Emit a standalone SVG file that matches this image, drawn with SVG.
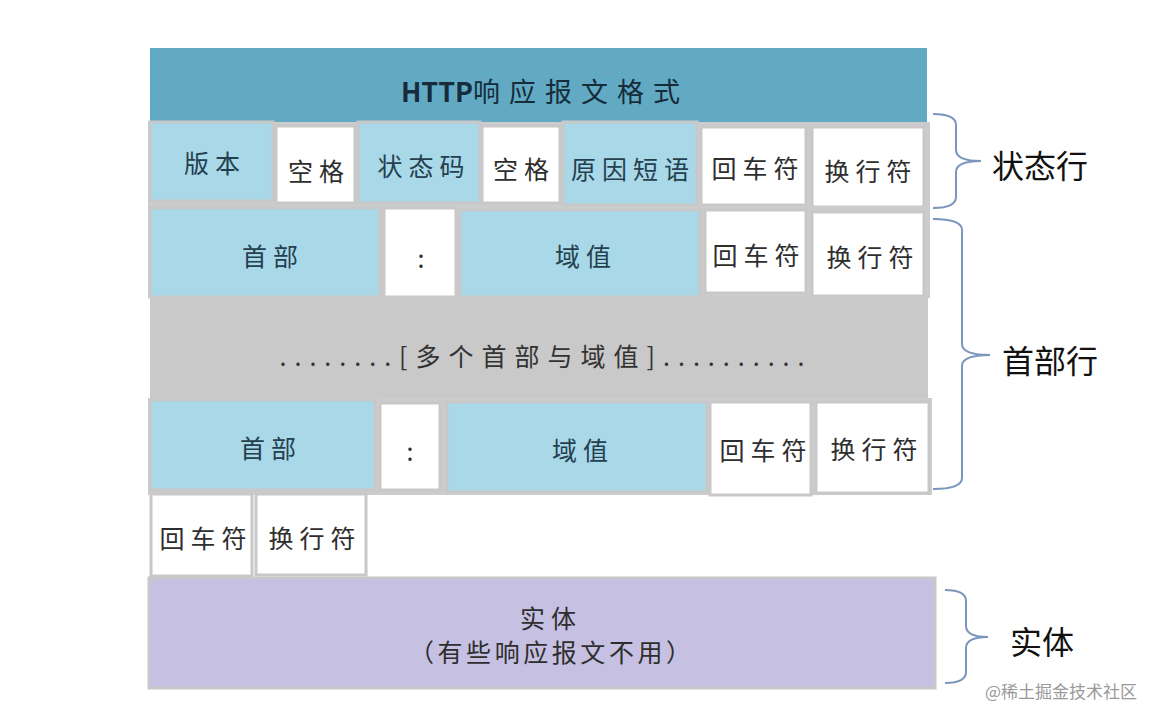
<svg xmlns="http://www.w3.org/2000/svg" width="1164" height="720" viewBox="0 0 1164 720">
<style>
  .cjk{font-family:"Noto Sans CJK SC","Noto Sans",sans-serif}
  .cell{stroke:#c8c8c8;stroke-width:3}
  .blue{fill:#a9d8e8}
  .white{fill:#ffffff}
  .t{font-family:"Noto Sans CJK SC","Noto Sans",sans-serif;font-size:25px;letter-spacing:6px;text-anchor:middle;dominant-baseline:central}
  .tb{fill:#24404f}
  .tw{fill:#2e2e2e}
  .brace{fill:none;stroke:#7b96bd;stroke-width:2}
  .lbl{font-family:"Noto Sans CJK SC","Noto Sans",sans-serif;font-size:32px;fill:#111111;dominant-baseline:central}
</style>
<rect x="0" y="0" width="1164" height="720" fill="#ffffff"/>

<g id="header">
  <rect x="150" y="48" width="777" height="75" fill="#62a9c4"/>
  <text x="545" y="90" class="cjk" font-size="27" fill="#162c3a" text-anchor="middle" dominant-baseline="central"><tspan font-weight="bold" letter-spacing="0">HTTP</tspan><tspan letter-spacing="9">响应报文格式</tspan></text>
</g>

<g id="row1">
  <rect x="148" y="122" width="782" height="86" fill="#cccccc"/>
  <g id="r1-version"><rect class="cell blue" x="150" y="122" width="123" height="79"/><text class="t tb" x="215" y="162">版本</text></g>
  <g id="r1-space1"><rect class="cell white" x="276" y="126" width="79" height="77"/><text class="t tw" x="319" y="170">空格</text></g>
  <g id="r1-status"><rect class="cell blue" x="358" y="122" width="122" height="81"/><text class="t tb" x="424" y="165">状态码</text></g>
  <g id="r1-space2"><rect class="cell white" x="482" y="126" width="78" height="77"/><text class="t tw" x="524" y="168">空格</text></g>
  <g id="r1-reason"><rect class="cell blue" x="563" y="122" width="134" height="83"/><text class="t tb" x="633" y="168">原因短语</text></g>
  <g id="r1-cr"><rect class="cell white" x="701" y="127" width="105" height="78"/><text class="t tw" x="758" y="167">回车符</text></g>
  <g id="r1-lf"><rect class="cell white" x="812" y="127" width="112" height="80"/><text class="t tw" x="871" y="170">换行符</text></g>
</g>

<g id="row2">
  <rect x="148" y="206" width="782" height="92" fill="#cccccc"/>
  <g id="r2-header"><rect class="cell blue" x="150" y="208" width="230" height="89"/><text class="t tb" x="273" y="255">首部</text></g>
  <g id="r2-colon"><rect class="cell white" x="384" y="208" width="72" height="89"/><text class="t tw" x="424" y="257">:</text></g>
  <g id="r2-value"><rect class="cell blue" x="460" y="210" width="240" height="87"/><text class="t tb" x="586" y="255">域值</text></g>
  <g id="r2-cr"><rect class="cell white" x="705" y="210" width="101" height="83"/><text class="t tw" x="759" y="254">回车符</text></g>
  <g id="r2-lf"><rect class="cell white" x="812" y="212" width="112" height="84"/><text class="t tw" x="873" y="256">换行符</text></g>
</g>

<g id="more-headers">
  <rect x="150" y="297" width="778" height="101" fill="#c9c9c9"/>
  <text x="542" y="355" class="cjk" font-size="25" fill="#333333" text-anchor="middle" dominant-baseline="central" textLength="525" lengthAdjust="spacing">........[多个首部与域值]..........</text>
</g>

<g id="row3">
  <rect x="148" y="398" width="784" height="97" fill="#cccccc"/>
  <g id="r3-header"><rect class="cell blue" x="150" y="400" width="225" height="90"/><text class="t tb" x="271" y="447">首部</text></g>
  <g id="r3-colon"><rect class="cell white" x="380" y="403" width="60" height="87"/><text class="t tw" x="413" y="450">:</text></g>
  <g id="r3-value"><rect class="cell blue" x="447" y="402" width="260" height="90"/><text class="t tb" x="583" y="449">域值</text></g>
  <g id="r3-cr"><rect class="cell white" x="710" y="402" width="101" height="93"/><text class="t tw" x="766" y="449">回车符</text></g>
  <g id="r3-lf"><rect class="cell white" x="816" y="402" width="113" height="91"/><text class="t tw" x="877" y="448">换行符</text></g>
</g>

<g id="row4">
  <g id="r4-cr"><rect class="cell white" x="151" y="494" width="101" height="82"/><text class="t tw" x="206" y="537">回车符</text></g>
  <g id="r4-lf"><rect class="cell white" x="256" y="494" width="110" height="81"/><text class="t tw" x="315" y="537">换行符</text></g>
</g>

<g id="entity">
  <rect x="149" y="578" width="786" height="110" fill="#c6c0e2" stroke="#c8c8c8" stroke-width="3"/>
  <text class="t" x="551" y="617" fill="#2e2e2e">实体</text>
  <text x="550" y="651" class="cjk" font-size="25" fill="#2e2e2e" text-anchor="middle" dominant-baseline="central" textLength="282" lengthAdjust="spacing">（有些响应报文不用）</text>
</g>

<g id="connectors">
  <path class="brace" d="M 933 114 Q 956 114 956 125 L 956 150 Q 956 161 981 161 Q 956 161 956 172 L 956 197 Q 956 208 933 208"/>
  <path class="brace" d="M 933 219 Q 962 219 962 230 L 962 344 Q 962 355 990 355 Q 962 355 962 366 L 962 478 Q 962 489 933 489"/>
  <path class="brace" d="M 945 590 Q 966 590 966 601 L 966 626 Q 966 637 988 637 Q 966 637 966 648 L 966 672 Q 966 683 945 683"/>
</g>

<g id="labels">
  <text class="lbl" x="992" y="164">状态行</text>
  <text class="lbl" x="1002" y="359">首部行</text>
  <text class="lbl" x="1010" y="640">实体</text>
</g>

<text x="985" y="690" class="cjk" font-size="17" fill="#9a9a9a" dominant-baseline="central">@稀土掘金技术社区</text>
</svg>
